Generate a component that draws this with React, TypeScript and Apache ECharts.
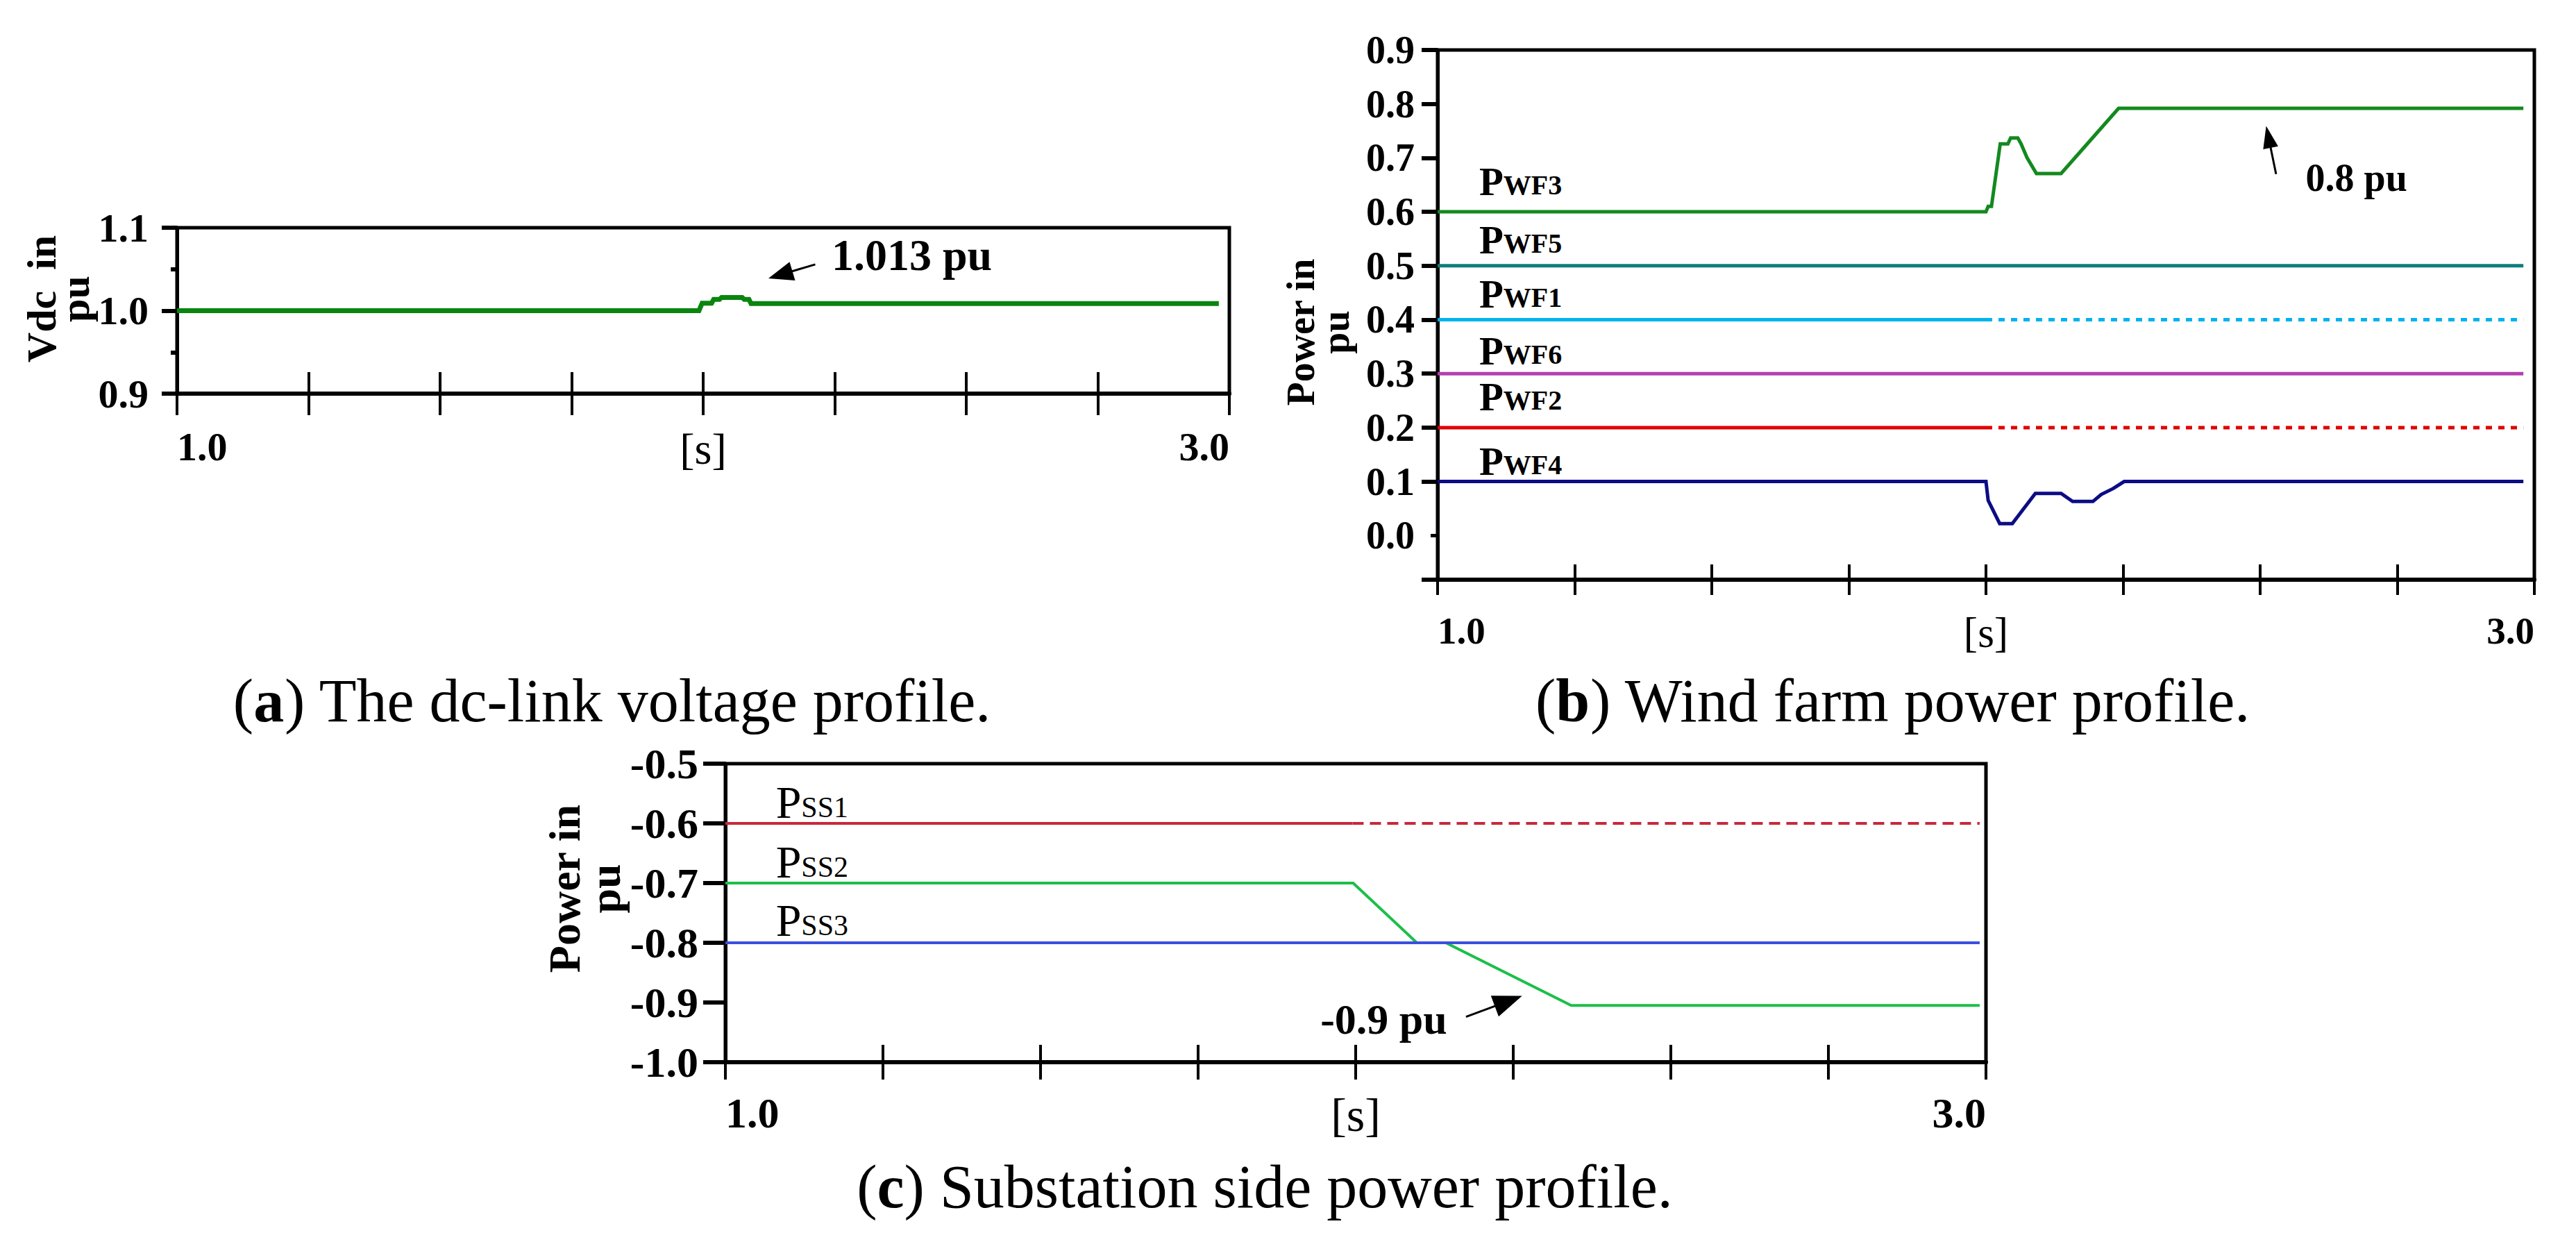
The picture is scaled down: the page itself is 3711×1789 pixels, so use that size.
import React, { useEffect, useRef } from "react";
import * as echarts from "echarts";

const FONT = "'Liberation Serif', 'Times New Roman', Times, serif";

// ---------- shared time axis ----------
const timeMin = 1.0;
const timeMax = 3.0;
const timeTickStep = 0.25;
const timeLabelValues = [1, 2, 3];
const timeLabelTexts = ["1.0", "[s]", "3.0"];

// ---------- (a) dc-link voltage ----------
const vdcAxisMin = 0.9;
const vdcAxisMax = 1.1;
const vdcAxisStep = 0.1;
const vdcTime = [1.0, 1.992, 1.998, 2.016, 2.02, 2.031, 2.035, 2.074, 2.078, 2.087, 2.091, 2.98];
const vdcValue = [1.0, 1.0, 1.009, 1.009, 1.0135, 1.0135, 1.016, 1.016, 1.0135, 1.0135, 1.0085, 1.0085];

// ---------- (b) wind farm power ----------
const wfAxisMin = -0.082;
const wfAxisMax = 0.9;
const wfTickValues = [-0.082, 0.1, 0.2, 0.3, 0.4, 0.5, 0.6, 0.7, 0.8, 0.9];
const wfLabelValues = [0, 0.1, 0.2, 0.3, 0.4, 0.5, 0.6, 0.7, 0.8, 0.9];
const wfShortTickValues = [0];
const pwf3Time = [1.0, 2.0, 2.004, 2.01, 2.026, 2.04, 2.045, 2.058, 2.064, 2.075, 2.092, 2.137, 2.242, 2.98];
const pwf3Value = [0.6, 0.6, 0.61, 0.61, 0.726, 0.726, 0.737, 0.737, 0.726, 0.7, 0.671, 0.671, 0.792, 0.792];
const pwf4Time = [1.0, 2.0, 2.004, 2.025, 2.048, 2.09, 2.137, 2.158, 2.195, 2.21, 2.232, 2.252, 2.98];
const pwf4Value = [0.1, 0.1, 0.065, 0.022, 0.022, 0.078, 0.078, 0.063, 0.063, 0.076, 0.087, 0.1, 0.1];
const wfFullTime = [1.0, 2.98];
const wfSolidTime = [1.0, 2.0];
const wfDottedTime = [2.0, 2.98];
const pwf5Value = [0.5, 0.5];
const pwf6Value = [0.3, 0.3];
const pwf1Value = [0.4, 0.4];
const pwf2Value = [0.2, 0.2];
const wfLabelNames = ["WF3", "WF5", "WF1", "WF6", "WF2", "WF4"];
const wfLabelLevels = [0.6, 0.5, 0.4, 0.3, 0.2, 0.1];

// ---------- (c) substation power ----------
const ssAxisMin = -1.0;
const ssAxisMax = -0.5;
const ssAxisStep = 0.1;
const ssFullTime = [1.0, 2.99];
const ssSolidTime = [1.0, 1.995];
const ssDashTime = [1.995, 2.99];
const pss1Value = [-0.6, -0.6];
const pss3Value = [-0.8, -0.8];
const pss2Time = [1.0, 1.996, 2.097, 2.143, 2.342, 2.99];
const pss2Value = [-0.7, -0.7, -0.8, -0.8, -0.905, -0.905];
const ssLabelNames = ["SS1", "SS2", "SS3"];
const ssLabelLevels = [-0.6, -0.7, -0.8];

// annotation anchors (data coordinates)
const vdcNote = { text: "1.013 pu", t: 2.244, v: 1.0667 };
const vdcArrow = { tail: [2.213, 1.0558], tip: [2.124, 1.039] };
const wfNote = { text: "0.8 pu", t: 2.583, v: 0.663 };
const wfArrow = { tail: [2.529, 0.67], tip: [2.511, 0.759] };
const ssNote = { text: "-0.9 pu", t: 1.944, v: -0.928 };
const ssArrow = { tail: [2.175, -0.924], tip: [2.264, -0.889] };

const zip = (t: number[], v: number[]) => t.map((x, i) => [x, v[i]]);

function timeAxes(gridIndex: number, o: { size: number; margin: number; tickLen: number; tickW: number; lineW: number }) {
  const fmt = (val: number) => {
    const i = timeLabelValues.findIndex((x) => Math.abs(x - val) < 1e-6);
    if (i < 0) return "";
    const s = timeLabelTexts[i];
    return s === "[s]" ? "{r|" + s + "}" : s;
  };
  return [
    {
      type: "value",
      gridIndex,
      min: timeMin,
      max: timeMax,
      interval: timeTickStep,
      position: "bottom",
      axisLine: { show: true, onZero: false, lineStyle: { color: "#000", width: o.lineW } },
      axisTick: { show: true, inside: false, length: o.tickLen, lineStyle: { color: "#000", width: o.tickW } },
      axisLabel: {
        show: true,
        interval: 0,
        margin: o.margin,
        formatter: fmt,
        showMinLabel: true,
        showMaxLabel: true,
        alignMinLabel: "left",
        alignMaxLabel: "right",
        fontFamily: FONT,
        fontWeight: "bold",
        fontSize: o.size,
        color: "#000",
        rich: { r: { fontFamily: FONT, fontWeight: "normal", fontSize: o.size + 6, color: "#000" } },
      },
      splitLine: { show: false },
    },
    {
      type: "value",
      gridIndex,
      min: timeMin,
      max: timeMax,
      interval: timeTickStep,
      position: "bottom",
      axisLine: { show: false, onZero: false },
      axisTick: { show: true, inside: true, length: o.tickLen, lineStyle: { color: "#000", width: o.tickW } },
      axisLabel: { show: false },
      splitLine: { show: false },
    },
  ];
}

function lineSeries(data: number[][], xi: number, yi: number, color: string, width: number, type: any = "solid") {
  return {
    type: "line",
    data,
    xAxisIndex: xi,
    yAxisIndex: yi,
    showSymbol: false,
    symbol: "none",
    silent: true,
    z: 3,
    lineStyle: { color, width, type, cap: "butt", join: "miter" },
  };
}

export default function App() {
  const ref = useRef<HTMLDivElement>(null);

  useEffect(() => {
    if (!ref.current) return;
    const chart = echarts.init(ref.current, null, { renderer: "svg" });

    const option: any = {
      animation: false,
      backgroundColor: "#fff",
      grid: [
        { left: 255, top: 328, width: 1516, height: 239, show: true, borderColor: "#000", borderWidth: 5 },
        { left: 2071, top: 72, width: 1580, height: 763, show: true, borderColor: "#000", borderWidth: 5 },
        { left: 1045, top: 1100, width: 1816, height: 430, show: true, borderColor: "#000", borderWidth: 5 },
      ],
      xAxis: [
        ...timeAxes(0, { size: 58, margin: 47, tickLen: 31, tickW: 4, lineW: 6 }),
        ...timeAxes(1, { size: 55, margin: 46, tickLen: 22, tickW: 4, lineW: 6 }),
        ...timeAxes(2, { size: 62, margin: 42, tickLen: 25, tickW: 4, lineW: 6 }),
      ],
      yAxis: [
        {
          type: "value",
          gridIndex: 0,
          min: vdcAxisMin,
          max: vdcAxisMax,
          interval: vdcAxisStep,
          name: "Vdc  in\npu",
          nameLocation: "middle",
          nameRotate: 90,
          nameGap: 122,
          nameTextStyle: { fontFamily: FONT, fontWeight: "bold", fontSize: 60, lineHeight: 48, color: "#000", padding: [0, 0, 0, 34] },
          axisLine: { show: true, onZero: false, lineStyle: { color: "#000", width: 5 } },
          axisTick: { show: true, inside: false, length: 22, lineStyle: { color: "#000", width: 6 } },
          minorTick: { show: true, splitNumber: 2, length: 9, lineStyle: { color: "#000", width: 6 } },
          axisLabel: { margin: 41, formatter: (v: number) => v.toFixed(1), fontFamily: FONT, fontWeight: "bold", fontSize: 58, color: "#000" },
          splitLine: { show: false },
        },
        {
          type: "value",
          gridIndex: 1,
          min: wfAxisMin,
          max: wfAxisMax,
          name: "Power in\npu",
          nameLocation: "middle",
          nameRotate: 90,
          nameGap: 122,
          nameTextStyle: { fontFamily: FONT, fontWeight: "bold", fontSize: 56, lineHeight: 50, color: "#000", padding: [0, 50, 0, 0] },
          axisLine: { show: true, onZero: false, lineStyle: { color: "#000", width: 5 } },
          axisTick: { show: true, inside: false, length: 23, customValues: wfTickValues, lineStyle: { color: "#000", width: 6 } },
          axisLabel: { margin: 33, customValues: wfLabelValues, formatter: (v: number) => v.toFixed(1), fontFamily: FONT, fontWeight: "bold", fontSize: 56, color: "#000" },
          splitLine: { show: false },
        },
        {
          type: "value",
          gridIndex: 1,
          min: wfAxisMin,
          max: wfAxisMax,
          position: "left",
          axisLine: { show: false, onZero: false },
          axisTick: { show: true, inside: false, length: 10, customValues: wfShortTickValues, lineStyle: { color: "#000", width: 5 } },
          axisLabel: { show: false },
          splitLine: { show: false },
        },
        {
          type: "value",
          gridIndex: 2,
          min: ssAxisMin,
          max: ssAxisMax,
          interval: ssAxisStep,
          name: "Power in\npu",
          nameLocation: "middle",
          nameRotate: 90,
          nameGap: 143,
          nameTextStyle: { fontFamily: FONT, fontWeight: "bold", fontSize: 64, lineHeight: 58, color: "#000", padding: [0, 0, 0, 70] },
          axisLine: { show: true, onZero: false, lineStyle: { color: "#000", width: 5 } },
          axisTick: { show: true, inside: false, length: 32, lineStyle: { color: "#000", width: 6 } },
          axisLabel: { margin: 39, formatter: (v: number) => v.toFixed(1), fontFamily: FONT, fontWeight: "bold", fontSize: 62, color: "#000" },
          splitLine: { show: false },
        },
      ],
      series: [
        // (a)
        lineSeries(zip(vdcTime, vdcValue), 0, 0, "#0a850f", 7),
        // (b)
        lineSeries(zip(pwf3Time, pwf3Value), 2, 1, "#13891f", 5),
        lineSeries(zip(wfFullTime, pwf5Value), 2, 1, "#0f7e7c", 5),
        lineSeries(zip(wfSolidTime, pwf1Value), 2, 1, "#00b3ef", 5),
        lineSeries(zip(wfDottedTime, pwf1Value), 2, 1, "#00b3ef", 5, [9, 9]),
        lineSeries(zip(wfFullTime, pwf6Value), 2, 1, "#b43fb0", 5),
        lineSeries(zip(wfSolidTime, pwf2Value), 2, 1, "#e00000", 5),
        lineSeries(zip(wfDottedTime, pwf2Value), 2, 1, "#e00000", 5, [9, 9]),
        lineSeries(zip(pwf4Time, pwf4Value), 2, 1, "#0c0c85", 5),
        // (c)
        lineSeries(zip(ssSolidTime, pss1Value), 4, 3, "#c8283c", 4),
        lineSeries(zip(ssDashTime, pss1Value), 4, 3, "#c8283c", 4, [16, 9]),
        lineSeries(zip(pss2Time, pss2Value), 4, 3, "#1cbf48", 4),
        lineSeries(zip(ssFullTime, pss3Value), 4, 3, "#3a4fe0", 4),
      ],
    };

    chart.setOption(option);

    const finderA = { xAxisIndex: 0, yAxisIndex: 0 };
    const finderB = { xAxisIndex: 2, yAxisIndex: 1 };
    const finderC = { xAxisIndex: 4, yAxisIndex: 3 };
    const px = (f: any, t: number, v: number) => chart.convertToPixel(f, [t, v]) as unknown as number[];

    const g: any[] = [];

    const CENTRAL = 0.305; // baseline offset below em-box centre (Liberation Serif)
    const pushLabel = (f: any, t: number, level: number, gap: number, sub: string, pSize: number, sSize: number, bold: boolean, pWidth: number) => {
      const p = px(f, t, level);
      const base = p[1] - gap;
      const weight = bold ? "bold" : "normal";
      g.push({
        type: "text",
        silent: true,
        style: { text: "P", x: p[0], y: base - CENTRAL * pSize, fontFamily: FONT, fontWeight: weight, fontSize: pSize, fill: "#000", align: "left", verticalAlign: "middle" },
      });
      g.push({
        type: "text",
        silent: true,
        style: { text: sub, x: p[0] + pWidth * pSize, y: base - CENTRAL * sSize, fontFamily: FONT, fontWeight: weight, fontSize: sSize, fill: "#000", align: "left", verticalAlign: "middle" },
      });
    };
    const wfGaps = [26, 20, 20, 15, 27, 12];
    wfLabelNames.forEach((n, i) => pushLabel(finderB, 1.076, wfLabelLevels[i], wfGaps[i], n, 57, 40, true, 0.611));
    const ssGaps = [10, 10, 12];
    ssLabelNames.forEach((n, i) => pushLabel(finderC, 1.08, ssLabelLevels[i], ssGaps[i], n, 66, 42, false, 0.556));

    const pushNote = (f: any, note: any, size: number) => {
      const p = px(f, note.t, note.v);
      g.push({
        type: "text",
        silent: true,
        style: { text: note.text, x: p[0], y: p[1], fontFamily: FONT, fontWeight: "bold", fontSize: size, fill: "#000", align: "left", verticalAlign: "middle" },
      });
    };
    pushNote(finderA, vdcNote, 64);
    pushNote(finderB, wfNote, 56);
    pushNote(finderC, ssNote, 62);

    const pushArrow = (f: any, arrow: any, headLen: number, headHalf: number) => {
      const a = px(f, arrow.tail[0], arrow.tail[1]);
      const b = px(f, arrow.tip[0], arrow.tip[1]);
      const dx = b[0] - a[0];
      const dy = b[1] - a[1];
      const len = Math.sqrt(dx * dx + dy * dy) || 1;
      const ux = dx / len;
      const uy = dy / len;
      const bx = b[0] - ux * headLen;
      const by = b[1] - uy * headLen;
      g.push({
        type: "line",
        silent: true,
        shape: { x1: a[0], y1: a[1], x2: bx + ux * 4, y2: by + uy * 4 },
        style: { stroke: "#000", lineWidth: 3 },
      });
      g.push({
        type: "polygon",
        silent: true,
        shape: {
          points: [
            [b[0], b[1]],
            [bx - uy * headHalf, by + ux * headHalf],
            [bx + uy * headHalf, by - ux * headHalf],
          ],
        },
        style: { fill: "#000" },
      });
    };
    pushArrow(finderA, vdcArrow, 36, 14);
    pushArrow(finderB, wfArrow, 32, 11);
    pushArrow(finderC, ssArrow, 42, 16);

    const capSize = 88;
    const pushCaption = (letter: string, rest: string, x: number, y: number) => {
      g.push({
        type: "text",
        silent: true,
        style: {
          text: "({b|" + letter + "}) " + rest,
          x,
          y,
          align: "center",
          verticalAlign: "middle",
          fontFamily: FONT,
          fontSize: capSize,
          fill: "#000",
          rich: { b: { fontFamily: FONT, fontSize: capSize, fontWeight: "bold", fill: "#000" } },
        },
      });
    };
    pushCaption("a", "The dc-link voltage profile.", 882, 1009);
    pushCaption("b", "Wind farm power profile.", 2727, 1009);
    pushCaption("c", "Substation side power profile.", 1822, 1709);

    chart.setOption({ graphic: g });

    return () => {
      chart.dispose();
    };
  }, []);

  return (
    <div
      ref={ref}
      style={{ position: "fixed", left: 0, top: 0, width: 3711, height: 1789, background: "#fff" }}
    />
  );
}
